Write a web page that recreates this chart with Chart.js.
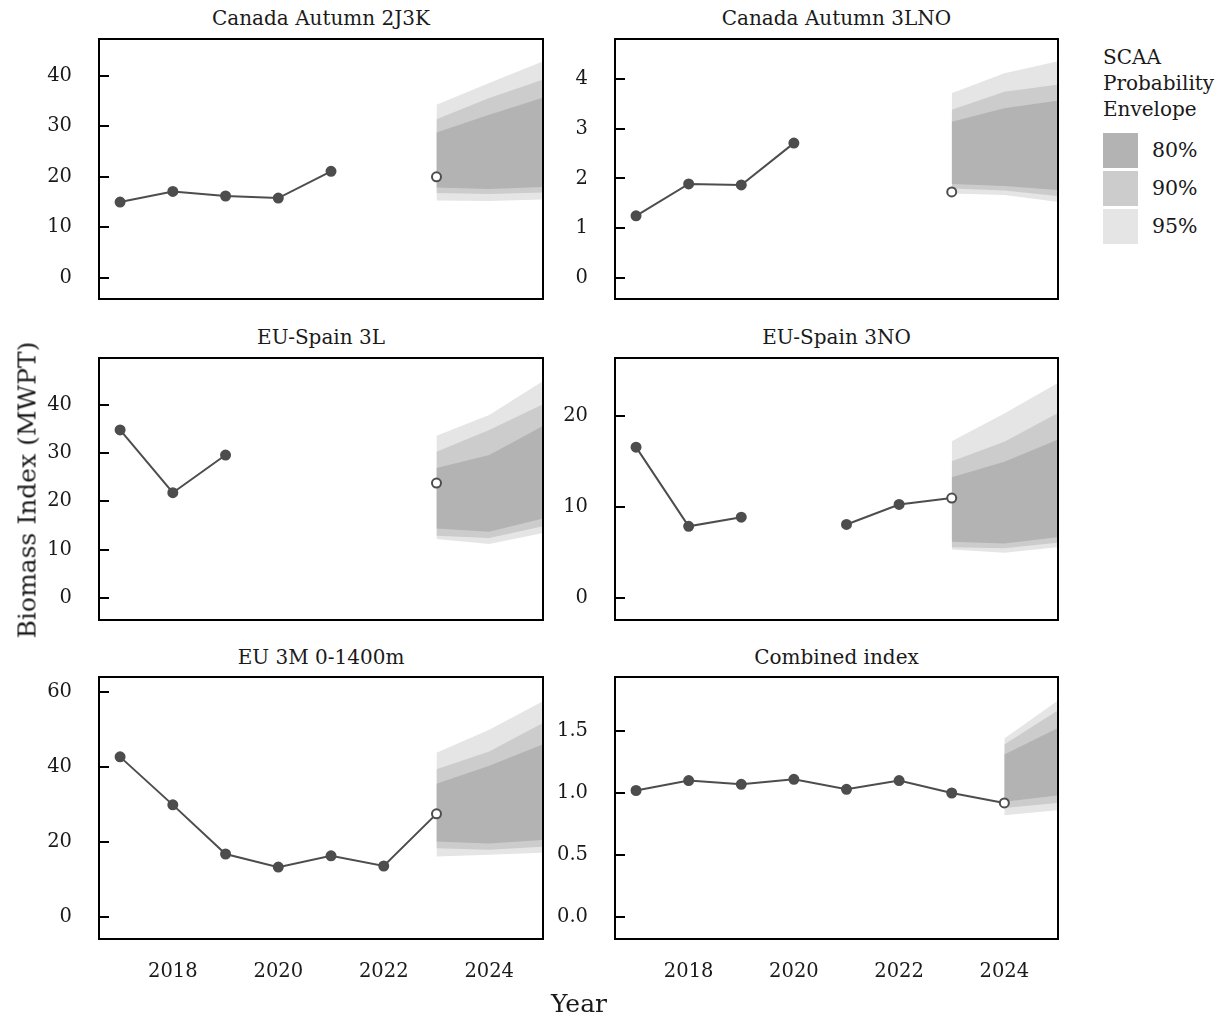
<!DOCTYPE html>
<html>
<head>
<meta charset="utf-8">
<script src="https://cdn.jsdelivr.net/npm/chart.js@4.4.1/dist/chart.umd.min.js"></script>
<style>
  body { margin: 0; background: #fff; font-family: "DejaVu Serif", serif; color: #1a1a1a; }
  #wrap { position: relative; width: 1224px; height: 1018px; overflow: hidden; }
  canvas { position: absolute; }
  .title { position: absolute; font-size: 20px; transform: translateX(-50%); white-space: nowrap; line-height: 20px; }
  .lab { position: absolute; white-space: nowrap; }
  .box { position: absolute; width: 35px; height: 35px; }
</style>
</head>
<body>
<div id="wrap">
  <canvas id="c0"></canvas><canvas id="c1"></canvas>
  <canvas id="c2"></canvas><canvas id="c3"></canvas>
  <canvas id="c4"></canvas><canvas id="c5"></canvas>
  <div id="titles"></div>
  <div class="lab" style="left:27px; top:490px; font-size:25px; transform: translate(-50%,-50%) rotate(-90deg);">Biomass Index (MWPT)</div>
  <div class="lab" style="left:579px; top:1003px; font-size:25px; transform: translate(-50%,-50%);">Year</div>
  <div class="lab" style="left:1103px; top:44px; font-size:20px; line-height:26px;">SCAA<br>Probability<br>Envelope</div>
  <div class="box" style="left:1103px; top:133px; background:#b3b3b3;"></div>
  <div class="box" style="left:1103px; top:171px; background:#cccccc;"></div>
  <div class="box" style="left:1103px; top:209px; background:#e5e5e5;"></div>
  <div class="lab" style="left:1152px; top:138px; font-size:20.5px;">80%</div>
  <div class="lab" style="left:1152px; top:176px; font-size:20.5px;">90%</div>
  <div class="lab" style="left:1152px; top:214px; font-size:20.5px;">95%</div>
</div>
<script>
// Survey years and panel titles
const years = [2017, 2018, 2019, 2020, 2021, 2022, 2023, 2024];
const xTicks = [2018, 2020, 2022, 2024];
const titles = ['Canada Autumn 2J3K', 'Canada Autumn 3LNO', 'EU-Spain 3L', 'EU-Spain 3NO', 'EU 3M 0-1400m', 'Combined index'];

// Observed indices (null = no survey)
const obs2J3K = [15.0, 17.1, 16.2, 15.8, 21.1, null, 20.0, null];
const obs3LNO = [1.25, 1.89, 1.87, 2.71, null, null, 1.73, null];
const obs3L = [34.8, 21.8, 29.6, null, null, null, 23.8, null];
const obs3NO = [16.6, 7.9, 8.9, null, 8.1, 10.3, 11.0, null];
const obs3M = [42.7, 29.9, 16.8, 13.3, 16.3, 13.6, 27.5, null];
const obsComb = [1.02, 1.10, 1.07, 1.11, 1.03, 1.10, 1.00, 0.92];

// Probability envelope years
const envYears = [2023, 2024, 2025];
const envYearsComb = [2024, 2025];

// Envelope bounds: upper/lower for 95, 90, 80 %
const u95_2J3K = [34.3, 38.6, 42.8], u90_2J3K = [31.4, 35.6, 39.2], u80_2J3K = [28.8, 32.3, 35.6];
const l80_2J3K = [17.9, 17.6, 18.0], l90_2J3K = [16.8, 16.6, 16.9], l95_2J3K = [15.3, 15.2, 15.5];

const u95_3LNO = [3.71, 4.11, 4.35], u90_3LNO = [3.38, 3.74, 3.88], u80_3LNO = [3.14, 3.41, 3.56];
const l80_3LNO = [1.89, 1.85, 1.77], l90_3LNO = [1.80, 1.76, 1.65], l95_3LNO = [1.70, 1.67, 1.53];

const u95_3L = [33.6, 37.9, 44.8], u90_3L = [30.3, 34.8, 40.0], u80_3L = [26.9, 29.6, 35.5];
const l80_3L = [14.4, 13.7, 16.4], l90_3L = [12.9, 12.4, 14.8], l95_3L = [12.2, 11.2, 13.4];

const u95_3NO = [17.25, 20.3, 23.6], u90_3NO = [15.05, 17.2, 20.3], u80_3NO = [13.3, 15.0, 17.4];
const l80_3NO = [6.2, 6.0, 6.7], l90_3NO = [5.6, 5.5, 6.1], l95_3NO = [5.35, 5.0, 5.6];

const u95_3M = [43.8, 49.9, 57.4], u90_3M = [39.4, 44.1, 51.6], u80_3M = [35.5, 40.3, 45.9];
const l80_3M = [20.1, 19.6, 20.5], l90_3M = [18.3, 17.9, 18.7], l95_3M = [16.1, 16.6, 17.1];

const u95_Comb = [1.44, 1.74], u90_Comb = [1.39, 1.66], u80_Comb = [1.31, 1.52];
const l80_Comb = [0.93, 0.98], l90_Comb = [0.88, 0.92], l95_Comb = [0.82, 0.86];

// Axis ticks and ranges
const yTicks = [[0, 10, 20, 30, 40], [0, 1, 2, 3, 4], [0, 10, 20, 30, 40], [0, 10, 20], [0, 20, 40, 60], [0, 0.5, 1, 1.5]];
const yMin = [-4.2, -0.42, -4.56, -2.4, -5.87, -0.177];
const yMax = [47.3, 4.8, 49.7, 26.4, 64, 1.935];

const panels = [
  { obs: obs2J3K, ex: envYears, b: [u95_2J3K, l95_2J3K, u90_2J3K, l90_2J3K, u80_2J3K, l80_2J3K] },
  { obs: obs3LNO, ex: envYears, b: [u95_3LNO, l95_3LNO, u90_3LNO, l90_3LNO, u80_3LNO, l80_3LNO] },
  { obs: obs3L, ex: envYears, b: [u95_3L, l95_3L, u90_3L, l90_3L, u80_3L, l80_3L] },
  { obs: obs3NO, ex: envYears, b: [u95_3NO, l95_3NO, u90_3NO, l90_3NO, u80_3NO, l80_3NO] },
  { obs: obs3M, ex: envYears, b: [u95_3M, l95_3M, u90_3M, l90_3M, u80_3M, l80_3M] },
  { obs: obsComb, ex: envYearsComb, b: [u95_Comb, l95_Comb, u90_Comb, l90_Comb, u80_Comb, l80_Comb] }
];

// panel placement (plot area)
const colLeft = [99, 615], colWidth = [444, 443];
const rowTop = [39, 358, 677], rowHeight = [260, 262, 262];
const titleY = [8, 327, 647];
const AXW = 75, PAD = 3;

const ink = '#4d4d4d';
const bandColors = ['#e5e5e5', '#cccccc', '#b3b3b3'];

// frame around plot area + inward y ticks
const framePlugin = {
  id: 'frame',
  afterDatasetsDraw(chart) {
    const a = chart.chartArea, ctx = chart.ctx, ys = chart.scales.y;
    ctx.save();
    ctx.strokeStyle = '#000';
    ctx.lineWidth = 2;
    ctx.strokeRect(a.left, a.top, a.right - a.left, a.bottom - a.top);
    ys.ticks.forEach(t => {
      const py = Math.round(ys.getPixelForValue(t.value));
      ctx.beginPath();
      ctx.moveTo(a.left, py);
      ctx.lineTo(a.left + 10, py);
      ctx.stroke();
    });
    ctx.restore();
  }
};

function pts(xs, ys) {
  return xs.map((x, i) => ({ x: x, y: ys[i] }));
}

panels.forEach((p, i) => {
  const row = Math.floor(i / 2), col = i % 2;
  const bottom = row === 2;
  const bottomH = bottom ? 50 : PAD;
  const cv = document.getElementById('c' + i);
  cv.width = colWidth[col] + AXW + PAD;
  cv.height = rowHeight[row] + PAD + bottomH;
  cv.style.left = (colLeft[col] - AXW) + 'px';
  cv.style.top = (rowTop[row] - PAD) + 'px';

  const t = document.createElement('div');
  t.className = 'title';
  t.textContent = titles[i];
  t.style.left = (colLeft[col] + colWidth[col] / 2) + 'px';
  t.style.top = titleY[row] + 'px';
  document.getElementById('titles').appendChild(t);

  // last observed point drawn as an open circle
  let last = -1;
  p.obs.forEach((v, k) => { if (v !== null) last = k; });
  const fills = p.obs.map((v, k) => k === last ? '#fff' : ink);

  const datasets = [];
  for (let k = 0; k < 3; k++) {
    datasets.push({
      data: pts(p.ex, p.b[2 * k]), backgroundColor: bandColors[k], borderWidth: 0,
      pointRadius: 0, fill: '+1', order: 3 - k, tension: 0
    });
    datasets.push({
      data: pts(p.ex, p.b[2 * k + 1]), backgroundColor: bandColors[k], borderWidth: 0,
      pointRadius: 0, fill: false, order: 3 - k, tension: 0
    });
  }
  datasets.push({
    data: pts(years, p.obs), borderColor: ink, borderWidth: 2, spanGaps: false,
    pointRadius: 4.5, pointBorderWidth: 2, pointBorderColor: ink, pointBackgroundColor: fills,
    fill: false, order: 0, tension: 0
  });

  new Chart(cv.getContext('2d'), {
    type: 'line',
    data: { datasets: datasets },
    options: {
      responsive: false,
      animation: false,
      devicePixelRatio: 1,
      layout: { autoPadding: false, padding: { top: PAD, right: PAD, left: 0, bottom: 0 } },
      plugins: { legend: { display: false }, tooltip: { enabled: false } },
      scales: {
        x: {
          type: 'linear', min: 2016.6, max: 2025.02,
          afterBuildTicks: s => { s.ticks = xTicks.map(v => ({ value: v })); },
          afterFit: s => { s.height = bottomH; s.paddingLeft = 0; s.paddingRight = 0; },
          grid: { display: false }, border: { display: false },
          ticks: {
            display: bottom, padding: 13, color: '#1a1a1a', maxRotation: 0,
            font: { family: 'DejaVu Serif', size: 19.5 },
            callback: v => String(v)
          }
        },
        y: {
          min: yMin[i], max: yMax[i],
          afterBuildTicks: s => { s.ticks = yTicks[i].map(v => ({ value: v })); },
          afterFit: s => { s.width = AXW; s.paddingTop = 0; s.paddingBottom = 0; },
          grid: { display: false }, border: { display: false },
          ticks: {
            padding: 19, color: '#1a1a1a',
            font: { family: 'DejaVu Serif', size: 19.5 },
            callback: v => i === 5 ? v.toFixed(1) : String(v)
          }
        }
      }
    },
    plugins: [framePlugin]
  });
});
</script>
</body>
</html>
